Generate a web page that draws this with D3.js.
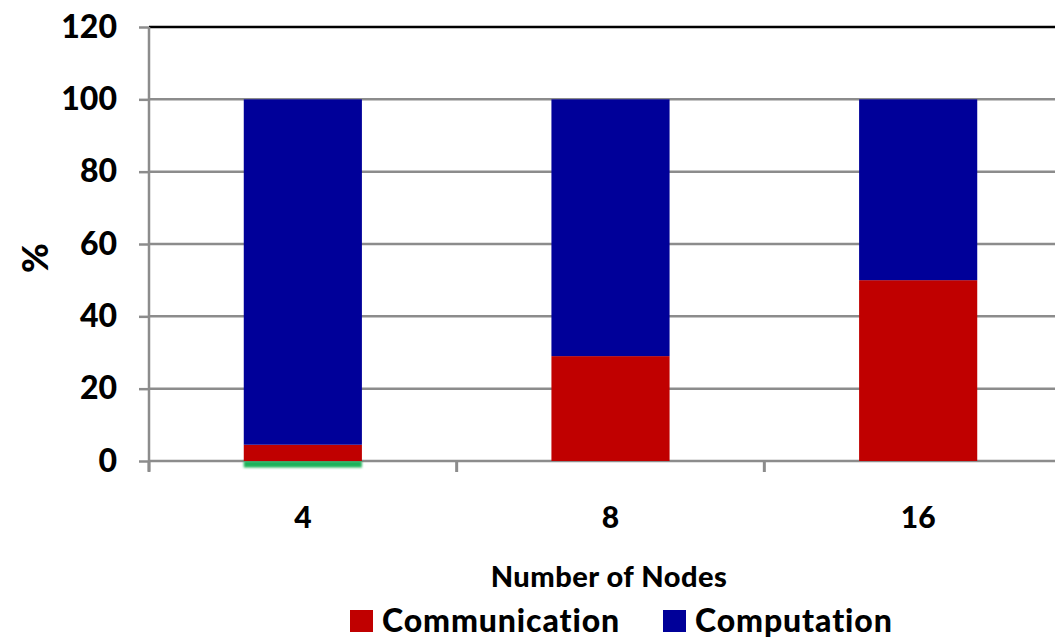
<!DOCTYPE html>
<html>
<head>
<meta charset="utf-8">
<script src="https://cdn.jsdelivr.net/npm/d3@7"></script>
<style>
  html, body { margin: 0; padding: 0; background: #fff; }
  svg { display: block; }
  text { font-family: Lato, "Open Sans", sans-serif; font-weight: 900; fill: #000; }
</style>
</head>
<body>
<svg id="chart" width="1055" height="639"></svg>
<script>
// Share of run time per node count
const nodes = ["4", "8", "16"];
const communication = [4.5, 29, 50];
const computation = [95.5, 71, 50];
const overhead = [-1.8, 0, 0];          // small residual slice drawn below the baseline
const yTicks = [0, 20, 40, 60, 80, 100, 120];
const seriesNames = ["Overhead", "Communication", "Computation"];
const legendNames = ["Communication", "Computation"];
const colors = { Overhead: "#1fb25a", Communication: "#c00000", Computation: "#000099" };

const svg = d3.select("#chart");
const plot = { left: 149, right: 1072, top: 27, bottom: 461 };

const rows = nodes.map((n, i) => ({
  node: n,
  Overhead: overhead[i],
  Communication: communication[i],
  Computation: computation[i]
}));

const stacked = d3.stack()
  .keys(seriesNames)
  .offset(d3.stackOffsetDiverging)(rows);

const x = d3.scaleBand()
  .domain(nodes)
  .range([plot.left, plot.right])
  .paddingInner(0.616)
  .paddingOuter(0.308);

const y = d3.scaleLinear().domain([0, 120]).range([plot.bottom, plot.top]);

const defs = svg.append("defs");
defs.append("filter").attr("id", "soft")
  .attr("x", "-5%").attr("y", "-80%").attr("width", "110%").attr("height", "260%")
  .append("feGaussianBlur").attr("stdDeviation", 1.1);

// gridlines, including the baseline
svg.append("g")
  .selectAll("line")
  .data(yTicks.filter(t => t < 120))
  .join("line")
  .attr("x1", plot.left).attr("x2", 1055)
  .attr("y1", d => y(d)).attr("y2", d => y(d))
  .attr("stroke", "#8c8c8c").attr("stroke-width", 2.5);

// top border
svg.append("line")
  .attr("x1", plot.left).attr("x2", 1055)
  .attr("y1", y(120)).attr("y2", y(120))
  .attr("stroke", "#000").attr("stroke-width", 2.5);

// bars
svg.append("g")
  .selectAll("g")
  .data(stacked)
  .join("g")
  .attr("fill", d => colors[d.key])
  .attr("filter", d => d.key === "Overhead" ? "url(#soft)" : null)
  .selectAll("rect")
  .data(d => d.map(v => ({ v, node: v.data.node })))
  .join("rect")
  .attr("x", d => x(d.node))
  .attr("width", x.bandwidth())
  .attr("y", d => y(Math.max(d.v[0], d.v[1])))
  .attr("height", d => Math.abs(y(d.v[0]) - y(d.v[1])));

// y axis
const yAxis = svg.append("g")
  .attr("transform", `translate(${plot.left},0)`)
  .call(d3.axisLeft(y).tickValues(yTicks).tickSize(10).tickPadding(22));
yAxis.select(".domain").remove();
yAxis.selectAll(".tick line").attr("stroke", "#8c8c8c").attr("stroke-width", 2.5);
yAxis.selectAll(".tick text")
  .attr("font-size", 32).attr("font-family", "Lato, sans-serif").attr("font-weight", 900)
  .attr("fill", "#000");
svg.append("line")
  .attr("x1", plot.left).attr("x2", plot.left)
  .attr("y1", y(120)).attr("y2", y(0) + 10)
  .attr("stroke", "#8c8c8c").attr("stroke-width", 2.5);

// x category ticks between bands
const step = x.step();
svg.append("g")
  .selectAll("line")
  .data(nodes)
  .join("line")
  .attr("x1", d => x(d) - x.paddingInner() * step / 2)
  .attr("x2", d => x(d) - x.paddingInner() * step / 2)
  .attr("y1", y(0)).attr("y2", y(0) + 11)
  .attr("stroke", "#8c8c8c").attr("stroke-width", 3);

// x labels
const xAxis = svg.append("g")
  .attr("transform", `translate(0,${plot.bottom})`)
  .call(d3.axisBottom(x).tickSize(0).tickPadding(46));
xAxis.select(".domain").remove();
xAxis.selectAll(".tick text")
  .attr("font-size", 30).attr("font-family", "Lato, sans-serif").attr("font-weight", 900)
  .attr("fill", "#000");

// axis titles
svg.append("text")
  .attr("transform", "translate(48,258) rotate(-90)")
  .attr("text-anchor", "middle")
  .attr("font-size", 36)
  .text("%");

svg.append("text")
  .attr("x", 609).attr("y", 587)
  .attr("text-anchor", "middle")
  .attr("font-size", 29)
  .attr("letter-spacing", 0.5)
  .text("Number of Nodes");

// legend
const legendPos = [350, 663];
const legend = svg.append("g")
  .selectAll("g")
  .data(legendNames)
  .join("g")
  .attr("transform", (d, i) => `translate(${legendPos[i]},610)`);
legend.append("rect")
  .attr("width", 23).attr("height", 22)
  .attr("fill", d => colors[d]);
legend.append("text")
  .attr("x", 32).attr("y", 22)
  .attr("font-size", 32)
  .attr("letter-spacing", 0.9)
  .text(d => d);
</script>
</body>
</html>
